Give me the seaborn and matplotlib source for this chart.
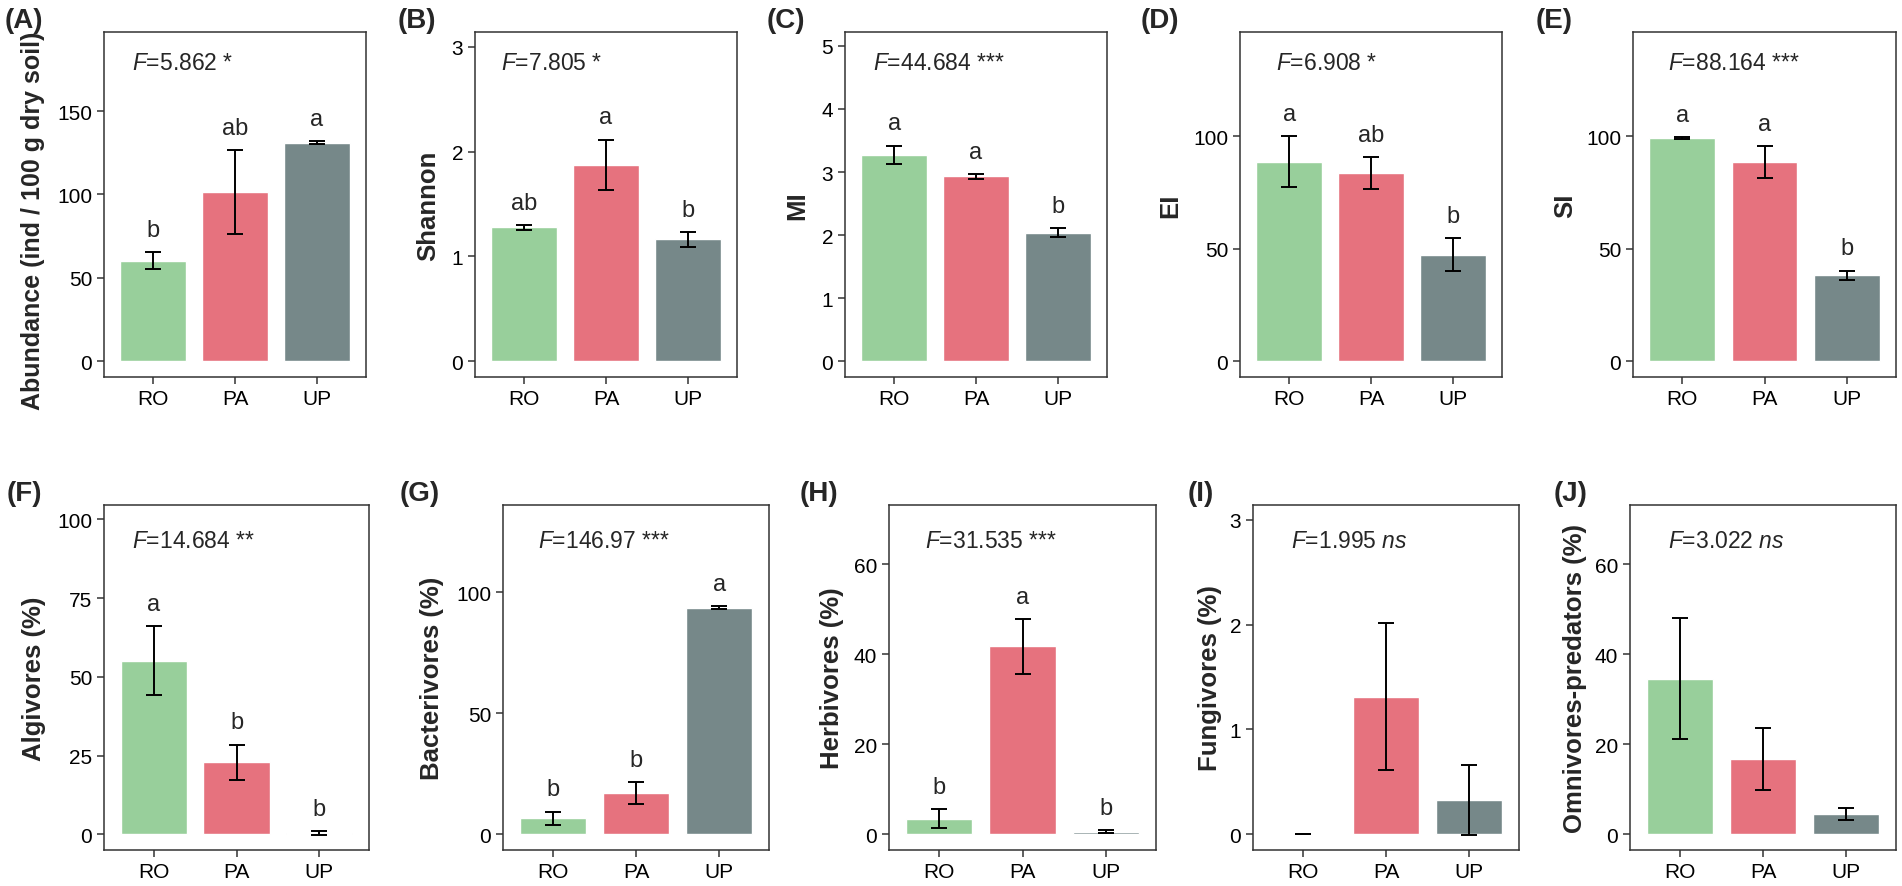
import matplotlib
matplotlib.use("Agg")
import matplotlib.pyplot as plt
import seaborn as sns

# groups and colours
groups = ["RO", "PA", "UP"]
colors = ["#98CF9B", "#E6727E", "#768889"]

# means and standard errors
abundance_mean = [60.4, 101.6, 131.0]
abundance_se = [5.2, 25.0, 0.8]
shannon_mean = [1.276, 1.876, 1.162]
shannon_se = [0.02, 0.238, 0.068]
mi_mean = [3.27, 2.93, 2.04]
mi_se = [0.15, 0.04, 0.065]
ei_mean = [88.6, 83.6, 47.4]
ei_se = [11.3, 7.0, 7.2]
si_mean = [99.2, 88.5, 38.3]
si_se = [0.5, 7.2, 2.0]
algivores_mean = [55.1, 22.8, 0.5]
algivores_se = [11.0, 5.7, 0.6]
bacterivores_mean = [6.6, 17.1, 93.5]
bacterivores_se = [2.8, 4.5, 0.6]
herbivores_mean = [3.5, 41.8, 0.6]
herbivores_se = [2.2, 6.1, 0.3]
fungivores_mean = [0.0, 1.31, 0.33]
fungivores_se = [0.0, 0.70, 0.335]
omnivores_mean = [34.6, 16.7, 4.5]
omnivores_se = [13.4, 6.9, 1.4]

# significance letters and F statistics
abundance_letters = ["b", "ab", "a"]
shannon_letters = ["ab", "a", "b"]
mi_letters = ["a", "a", "b"]
ei_letters = ["a", "ab", "b"]
si_letters = ["a", "a", "b"]
algivores_letters = ["a", "b", "b"]
bacterivores_letters = ["b", "b", "a"]
herbivores_letters = ["b", "a", "b"]
f_texts = [r"$\mathit{F}$=5.862 *", r"$\mathit{F}$=7.805 *", r"$\mathit{F}$=44.684 ***",
           r"$\mathit{F}$=6.908 *", r"$\mathit{F}$=88.164 ***", r"$\mathit{F}$=14.684 **",
           r"$\mathit{F}$=146.97 ***", r"$\mathit{F}$=31.535 ***",
           r"$\mathit{F}$=1.995 $\mathit{ns}$", r"$\mathit{F}$=3.022 $\mathit{ns}$"]

sns.set_style("ticks")
plt.rcParams["font.family"] = ["Liberation Sans", "DejaVu Sans"]
plt.rcParams["mathtext.fontset"] = "custom"
plt.rcParams["mathtext.rm"] = "Liberation Sans"
plt.rcParams["mathtext.it"] = "Liberation Sans:italic"

W, H = 1902, 887
fig = plt.figure(figsize=(W / 100, H / 100), dpi=100)

# (tag, ylabel, mean, se, letters, yticks, ylim, box left px, box right px, row, tag x px, ylabel x px, F text x frac)
panels = [
    ("(A)", "Abundance (ind / 100 g dry soil)", abundance_mean, abundance_se, abundance_letters,
     [0, 50, 100, 150], (-9.4, 197.4), 104, 366, 0, 5, 33, 0.107),
    ("(B)", "Shannon", shannon_mean, shannon_se, shannon_letters,
     [0, 1, 2, 3], (-0.15, 3.14), 475, 737, 0, 398, 428, 0.10),
    ("(C)", "MI", mi_mean, mi_se, mi_letters,
     [0, 1, 2, 3, 4, 5], (-0.25, 5.22), 845, 1107, 0, 767, 797, 0.107),
    ("(D)", "EI", ei_mean, ei_se, ei_letters,
     [0, 50, 100], (-7.0, 146.3), 1240, 1502, 0, 1141, 1170, 0.137),
    ("(E)", "SI", si_mean, si_se, si_letters,
     [0, 50, 100], (-7.0, 146.3), 1633, 1896, 0, 1536, 1565, 0.133),
    ("(F)", "Algivores (%)", algivores_mean, algivores_se, algivores_letters,
     [0, 25, 50, 75, 100], (-5.0, 104.6), 104, 369, 1, 7, 34, 0.106),
    ("(G)", "Bacterivores (%)", bacterivores_mean, bacterivores_se, bacterivores_letters,
     [0, 50, 100], (-6.5, 136.0), 503, 769, 1, 400, 432, 0.13),
    ("(H)", "Herbivores (%)", herbivores_mean, herbivores_se, herbivores_letters,
     [0, 20, 40, 60], (-3.5, 73.2), 889, 1156, 1, 800, 832, 0.135),
    ("(I)", "Fungivores (%)", fungivores_mean, fungivores_se, None,
     [0, 1, 2, 3], (-0.15, 3.14), 1253, 1519, 1, 1188, 1210, 0.143),
    ("(J)", "Omnivores-predators (%)", omnivores_mean, omnivores_se, None,
     [0, 20, 40, 60], (-3.5, 73.2), 1630, 1896, 1, 1554, 1575, 0.143),
]

row_top = [33, 506]
box_h = 345

for i, (tag, ylab, mean, se, letters, yticks, ylim, x0, x1, row, tag_x, lab_x, fx) in enumerate(panels):
    top = row_top[row]
    ax = fig.add_axes([x0 / W, 1 - (top + box_h) / H, (x1 - x0) / W, box_h / H])
    sns.barplot(x=groups, y=mean, hue=groups, palette=colors, width=0.8,
                saturation=1, legend=False, ax=ax)
    ax.errorbar(x=range(3), y=mean, yerr=se, fmt="none", ecolor="black",
                elinewidth=1.4, capsize=5.8, capthick=1.4, zorder=3)
    if letters:
        for j, lt in enumerate(letters):
            ax.annotate(lt, xy=(j, mean[j] + se[j]), xytext=(0, 8), textcoords="offset points",
                        ha="center", va="bottom", fontsize=17)
    ax.text(fx, 0.912 if row == 0 else 0.896, f_texts[i], transform=ax.transAxes,
            ha="left", va="center", fontsize=16.5)

    ax.set_xlim(-0.6, 2.6)
    ax.set_ylim(*ylim)
    ax.set_yticks(yticks)
    ax.set_xlabel("")
    # the long abundance label sits a little lower so it clears the panel tag
    lab_y = 0.455 if i == 0 else 0.5
    ax.set_ylabel(ylab, fontsize=18 if i == 0 else 18.5, fontweight="bold", va="center")
    ax.yaxis.set_label_coords((lab_x - x0) / (x1 - x0), lab_y)
    ax.tick_params(direction="out", length=5, width=1.1, color="#333333",
                   labelsize=15, labelcolor="black", pad=3.5)
    ax.tick_params(axis="x", pad=4)
    for sp in ax.spines.values():
        sp.set_visible(True)
        sp.set_color("#333333")
        sp.set_linewidth(1.1)

    fig.text(tag_x / W, 1 - (top - 12) / H, tag, fontsize=20, fontweight="bold",
             ha="left", va="center")

fig.savefig("out.png", dpi=100)
